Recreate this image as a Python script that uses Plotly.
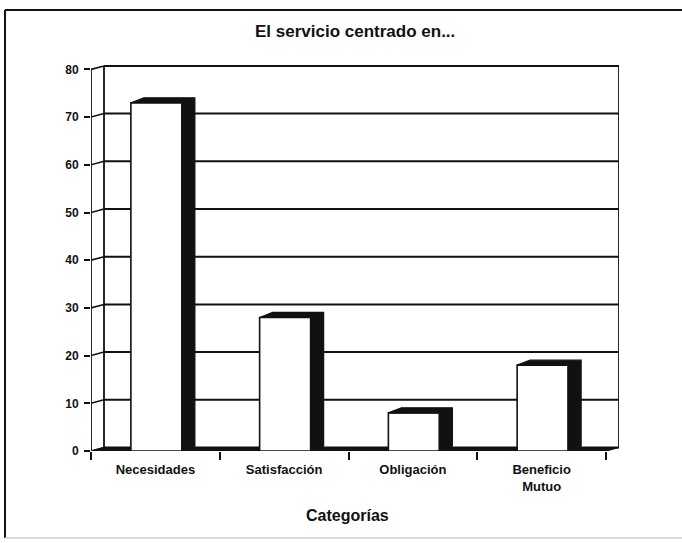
import plotly.graph_objects as go

# ---- data ----
categories = ["Necesidades", "Satisfacción", "Obligación", "Beneficio<br>Mutuo"]
values = [73, 28, 8, 18]
y_ticks = [0, 10, 20, 30, 40, 50, 60, 70, 80]
title_text = "El servicio centrado en..."
x_title = "Categorías"

# ---- geometry (pixels) ----
W, H = 682, 543
L, R, T, B = 91, 63, 65, 92
PW = W - L - R
PH = H - T - B
FRONT_W = 515.0      # width of front floor edge
FRONT_H = 381.6      # height of 0..80 on the front axis
n = len(categories)
ppx = FRONT_W / n
ymax_val = y_ticks[-1]
ppy = FRONT_H / ymax_val
x0 = -0.5
x1 = x0 + n
x_range = [x0, x0 + PW / ppx]
y_range = [0, PH / ppy]

wdx, wdy = 13 / ppx, 3.5 / ppy     # wall depth
bdx, bdy = 13 / ppx, 5 / ppy       # bar depth
bar_w = 51 / ppx
bar_off = -24.5 / ppx

FONT = "Liberation Sans, Arial, sans-serif"
INK = "#111111"


def px_to_paper_x(px):
    return (px - L) / PW


def px_to_paper_y(py):
    return (H - B - py) / PH


fig = go.Figure()

# front faces
fig.add_trace(go.Bar(
    x=list(range(n)), y=values, width=bar_w, offset=bar_off,
    marker=dict(color="white", line=dict(color=INK, width=1.6)),
    hoverinfo="skip", showlegend=False,
))

# side + top faces (dark)
for i, v in enumerate(values):
    xl = i + bar_off
    xr = xl + bar_w
    xs = [xl, xl + bdx, xr + bdx, xr + bdx, xr, xr, xl]
    ys = [v, v + bdy, v + bdy, bdy, 0, v, v]
    fig.add_trace(go.Scatter(
        x=xs, y=ys, mode="lines", fill="toself", fillcolor=INK,
        line=dict(color=INK, width=1.2), hoverinfo="skip", showlegend=False,
    ))

shapes = []
# floor
shapes.append(dict(
    type="path", xref="x", yref="y", layer="below",
    path=f"M {x0},0 L {x1},0 L {x1 + wdx},{wdy} L {x0 + wdx},{wdy} Z",
    fillcolor=INK, line=dict(color=INK, width=1.2),
))
# back wall gridlines and side wall diagonals
for v in y_ticks:
    shapes.append(dict(type="line", xref="x", yref="y", layer="below",
                       x0=x0 + wdx, y0=v + wdy, x1=x1 + wdx, y1=v + wdy,
                       line=dict(color=INK, width=2)))
    shapes.append(dict(type="line", xref="x", yref="y", layer="below",
                       x0=x0, y0=v, x1=x0 + wdx, y1=v + wdy,
                       line=dict(color=INK, width=1.6)))
# back wall verticals
for xv in (x0 + wdx, x1 + wdx):
    shapes.append(dict(type="line", xref="x", yref="y", layer="below",
                       x0=xv, y0=wdy, x1=xv, y1=ymax_val + wdy,
                       line=dict(color=INK, width=1.8)))
# front value axis line
shapes.append(dict(type="line", xref="x", yref="y", layer="above",
                   x0=x0, y0=0, x1=x0, y1=ymax_val,
                   line=dict(color=INK, width=1.8)))
# outer frame
fx0, fx1 = px_to_paper_x(5), px_to_paper_x(682)
fy0, fy1 = px_to_paper_y(538), px_to_paper_y(10)
shapes.append(dict(type="line", xref="paper", yref="paper", x0=fx0, y0=fy1, x1=fx1, y1=fy1,
                   line=dict(color=INK, width=2)))
shapes.append(dict(type="line", xref="paper", yref="paper", x0=fx0, y0=fy1, x1=fx0, y1=fy0,
                   line=dict(color=INK, width=2)))
shapes.append(dict(type="line", xref="paper", yref="paper", x0=fx0, y0=fy0, x1=fx1, y1=fy0,
                   line=dict(color="#cfcfcf", width=1.5)))

annotations = [
    dict(text=f"<b>{title_text}</b>", xref="paper", yref="paper",
         x=px_to_paper_x(355), y=px_to_paper_y(32), xanchor="center", yanchor="middle",
         showarrow=False, font=dict(family=FONT, size=17, color=INK)),
    dict(text=f"<b>{x_title}</b>", xref="paper", yref="paper",
         x=px_to_paper_x(347), y=px_to_paper_y(515), xanchor="center", yanchor="middle",
         showarrow=False, font=dict(family=FONT, size=16, color=INK)),
]

fig.update_layout(
    width=W, height=H,
    margin=dict(l=L, r=R, t=T, b=B, pad=0),
    paper_bgcolor="white", plot_bgcolor="white",
    shapes=shapes, annotations=annotations,
    showlegend=False,
    xaxis=dict(
        range=x_range, showgrid=False, zeroline=False, showline=False,
        tickmode="array", tickvals=list(range(n)),
        ticktext=[f"<b>{c}</b>" for c in categories],
        ticks="", ticklabelstandoff=9,
        tickfont=dict(family=FONT, size=13, color=INK),
        minor=dict(tickmode="array", tickvals=[x0 + k for k in range(n + 1)],
                   ticks="outside", ticklen=8, tickwidth=1.8, tickcolor=INK),
        fixedrange=True,
    ),
    yaxis=dict(
        range=y_range, showgrid=False, zeroline=False, showline=False,
        tickmode="array", tickvals=y_ticks,
        ticktext=[f"<b>{v}</b>" for v in y_ticks],
        ticks="outside", ticklen=6, tickwidth=1.8, tickcolor=INK,
        ticklabelstandoff=3,
        tickfont=dict(family=FONT, size=12, color=INK),
        fixedrange=True,
    ),
)

fig.write_html("out.html")
